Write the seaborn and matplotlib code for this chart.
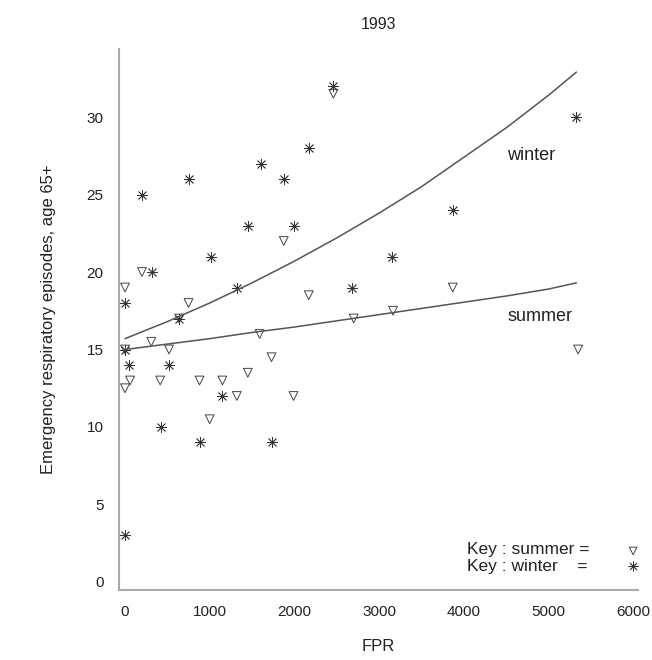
import numpy as np
import pandas as pd
import matplotlib
matplotlib.use("Agg")
import matplotlib.pyplot as plt
import seaborn as sns

# FPR values and episode counts
summer_fpr = [0, 0, 0, 60, 200, 310, 415, 520, 640, 750, 880, 1000, 1150,
              1320, 1450, 1590, 1730, 1875, 1990, 2170, 2460, 2700, 3165, 3870, 5350]
summer_eps = [12.5, 19, 15, 13, 20, 15.5, 13, 15, 17, 18, 13, 10.5, 13,
              12, 13.5, 16, 14.5, 22, 12, 18.5, 31.5, 17, 17.5, 19, 15]

winter_fpr = [0, 0, 0, 50, 200, 320, 420, 520, 640, 750, 880, 1020, 1150,
              1320, 1450, 1600, 1730, 1880, 1990, 2170, 2460, 2680, 3150, 3870, 5330]
winter_eps = [3, 15, 18, 14, 25, 20, 10, 14, 17, 26, 9, 21, 12,
              19, 23, 27, 9, 26, 23, 28, 32, 19, 21, 24, 30]

# fitted curves, values
fit_fpr = [0, 500, 1000, 1500, 2000, 2500, 3000, 3500, 4000, 4500, 5000, 5330]
winter_fit = [15.7, 16.8, 18.0, 19.3, 20.7, 22.2, 23.8, 25.5, 27.4, 29.3, 31.4, 32.9]
summer_fit = [15.0, 15.35, 15.7, 16.1, 16.45, 16.85, 17.25, 17.65, 18.05, 18.45, 18.9, 19.3]

x_ticks = [0, 1000, 2000, 3000, 4000, 5000, 6000]
y_ticks = [0, 5, 10, 15, 20, 25, 30]

summer = pd.DataFrame({"FPR": summer_fpr, "episodes": summer_eps})
winter = pd.DataFrame({"FPR": winter_fpr, "episodes": winter_eps})
fits = pd.DataFrame({"FPR": fit_fpr, "winter": winter_fit, "summer": summer_fit})

sns.set_style("white")
plt.rcParams["font.family"] = ["Liberation Sans", "DejaVu Sans"]

fig = plt.figure(figsize=(6.52, 6.60), dpi=100)
ax = fig.add_axes([0.1825, 0.106, 0.796, 0.82])

sns.lineplot(data=fits, x="FPR", y="winter", ax=ax, color="#555555", lw=1.1)
sns.lineplot(data=fits, x="FPR", y="summer", ax=ax, color="#555555", lw=1.1)

sns.scatterplot(data=summer, x="FPR", y="episodes", ax=ax, marker="v", s=40,
                facecolors="none", edgecolor="#444444", linewidth=0.7)
sns.scatterplot(data=winter, x="FPR", y="episodes", ax=ax, marker=(8, 2, 0), s=55,
                color="#333333", edgecolor="#333333", linewidth=0.6)

ax.set_xlim(-71, 6057)
ax.set_ylim(-0.52, 34.4)
ax.set_xticks(x_ticks)
ax.set_yticks(y_ticks)
ax.tick_params(axis="both", direction="out", length=5, width=1, color="#999999",
               labelsize=11, labelcolor="#222222", pad=6)
for side in ["top", "right"]:
    ax.spines[side].set_visible(False)
for side in ["left", "bottom"]:
    ax.spines[side].set_color("#aaaaaa")
    ax.spines[side].set_linewidth(1.5)

ax.set_xlabel("FPR", fontsize=12, color="#222222", labelpad=14)
ax.set_ylabel("Emergency respiratory episodes, age 65+", fontsize=12,
              color="#222222", labelpad=22)
ax.set_title("1993", fontsize=11.5, color="#222222", pad=14)

ax.text(4510, 27.5, "winter", fontsize=13, color="#222222", va="center")
ax.text(4520, 17.1, "summer", fontsize=13, color="#222222", va="center")

# key in the lower right corner
ax.text(4040, 2.1, "Key : summer =", fontsize=12.5, color="#222222", va="center")
ax.text(4040, 1.0, "Key : winter    =", fontsize=12.5, color="#222222", va="center")
ax.scatter([6000], [2.0], marker="v", s=30, facecolors="none",
           edgecolors="#444444", linewidths=0.7)
ax.scatter([6000], [1.0], marker=(8, 2, 0), s=45, color="#333333", linewidths=0.6)

fig.savefig("out.png", dpi=100)
